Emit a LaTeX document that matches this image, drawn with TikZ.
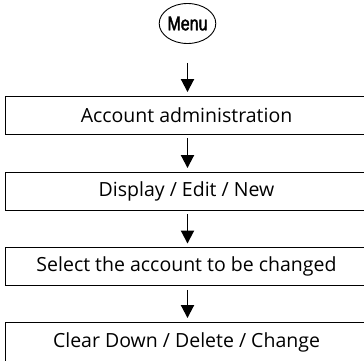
\documentclass[tikz,border=0pt]{standalone}
\usepackage{fontspec}
\setmainfont{Open Sans}
\newfontfamily\menufont[FakeStretch=0.8,FakeBold=2]{Liberation Sans}
\usetikzlibrary{arrows.meta,shapes.geometric}
\begin{document}
\begin{tikzpicture}[x=1pt,y=1pt,
  stepbox/.style={draw, line width=0.9pt, minimum width=366pt, minimum height=38pt, inner sep=0pt},
  steptext/.style={font=\fontsize{19.5}{22}\selectfont, inner sep=0pt},
  flowarrow/.style={line width=1.9pt, -{Triangle[width=13pt,length=13pt]}, shorten <=4pt, shorten >=3.5pt}]
\useasboundingbox (0,0) rectangle (364,360);
\node[draw, ellipse, line width=0.9pt, minimum width=47pt, minimum height=40pt, inner sep=0pt] (menu) at (187.5,336.5) {\menufont\fontsize{20}{22}\selectfont Menu};
\node[stepbox] (b1) at (188,245) {};
\node[stepbox] (b2) at (188,169) {};
\node[stepbox] (b3) at (188,93.5) {};
\node[stepbox, minimum height=40pt] (b4) at (188,18) {};
\node[steptext] (t1) at (186.5,245) {Account administration};
\node[steptext] (t2) at (186.5,169) {Display / Edit / New};
\node[steptext] (t3) at (186.5,93.5) {Select the account to be changed};
\node[steptext] (t4) at (186.5,18) {Clear Down / Delete / Change};
\coordinate (m0) at ([yshift=-15pt]menu.south);
\draw[flowarrow] (m0) -- (b1.north -| menu);
\draw[flowarrow] (b1.south -| menu) -- (b2.north -| menu);
\draw[flowarrow] (b2.south -| menu) -- (b3.north -| menu);
\draw[flowarrow] (b3.south -| menu) -- (b4.north -| menu);
\end{tikzpicture}
\end{document}
